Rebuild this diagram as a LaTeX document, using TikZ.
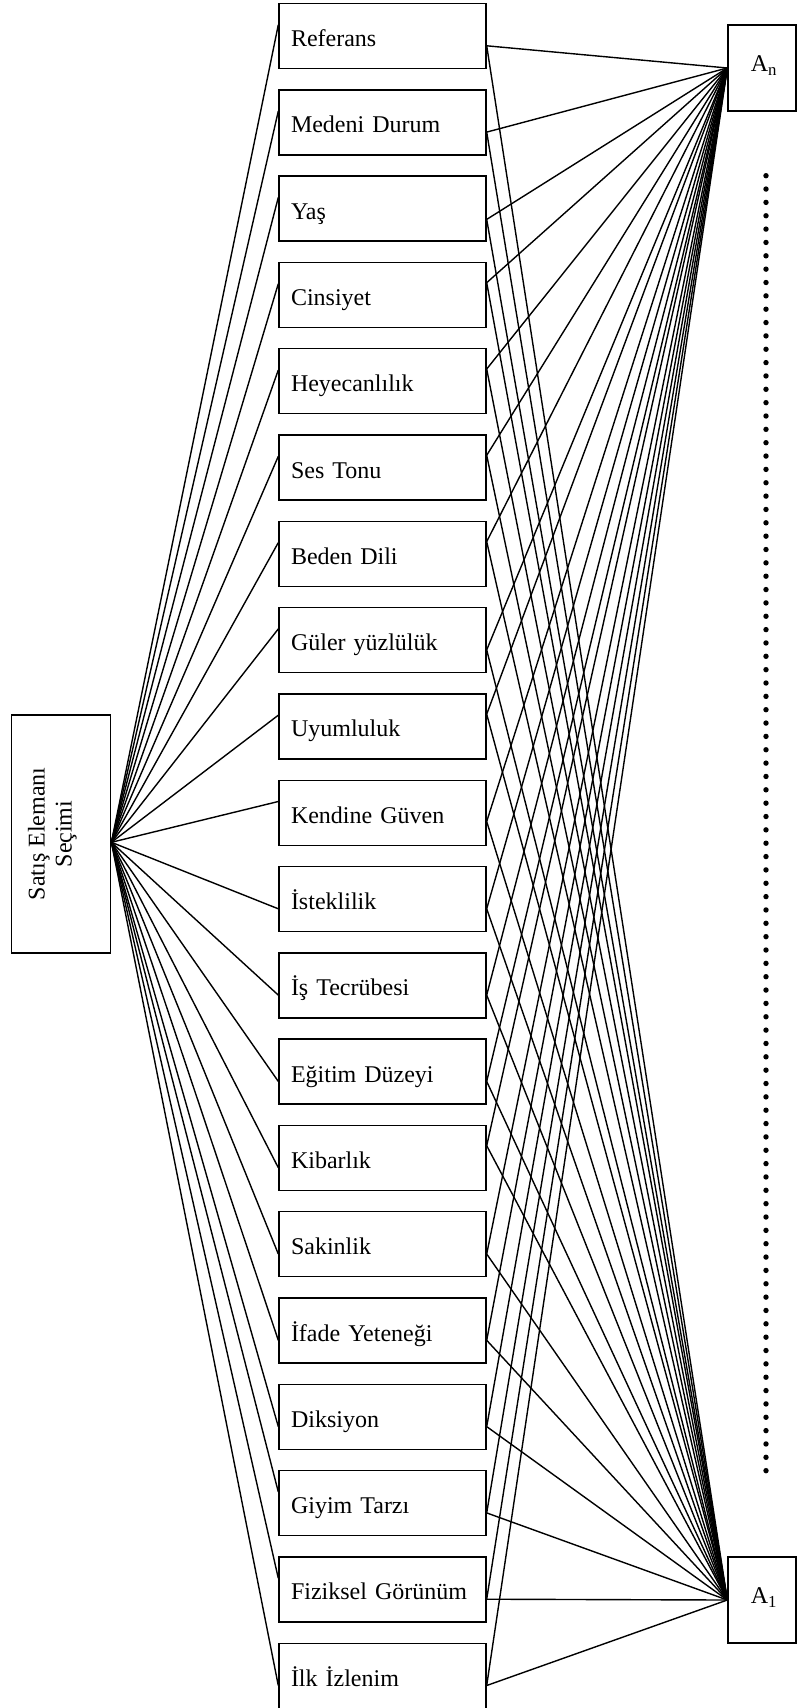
\documentclass[tikz,border=0pt]{standalone}
\usepackage{fontspec}
\setmainfont{Liberation Serif}
\usetikzlibrary{calc}
\begin{document}
\begin{tikzpicture}[x=1pt,y=-1pt,
  every node/.style={font=\fontsize{24}{27}\selectfont},
  itembox/.style={draw, line width=1.4pt, minimum width=207pt, minimum height=65pt,
    inner xsep=12pt, inner ysep=0pt, text width=183pt, align=left,
    text height=24pt, text depth=3pt},
  abox/.style={draw, line width=1.4pt, minimum width=68pt, minimum height=86pt,
    inner sep=0pt, text height=16pt, text depth=9pt},
  satbox/.style={draw, line width=1.4pt, minimum width=99pt, minimum height=238pt, inner sep=0pt},
  link/.style={line width=1.4pt},
  sattext/.style={rotate=90, anchor=base, inner sep=0pt}
]
\useasboundingbox (0,0) rectangle (797,1708);

% left root box
\node[satbox] (sat) at (61.2,834) {};
\node[sattext] (satA) at (44.5,834) {Satış Elemanı};
\node[sattext] (satB) at (71.5,834) {Seçimi};
\coordinate (sp) at ($(sat.north east)+(0,128)$);

% right boxes
\node[abox] (An) at (762,68) {\hspace*{4pt}A\textsubscript{n}};
\node[abox] (A1) at (762,1600) {\hspace*{4pt}A\textsubscript{1}};

% dotted column
\foreach \k in {0,...,97}
  \fill (766,175.7+13.35*\k) circle[radius=2.7];

% items
\foreach \i/\txt/\lo/\ro in {
  0/Referans/22/43,
  1/Medeni Durum/22/43,
  2/Yaş/22/44,
  3/Cinsiyet/22/21,
  4/Heyecanlılık/22/21,
  5/Ses Tonu/22/21,
  6/Beden Dili/22/21,
  7/Güler yüzlülük/22/43,
  8/Uyumluluk/22/21,
  9/Kendine Güven/22/42,
  10/İsteklilik/43/43,
  11/İş Tecrübesi/43/43,
  12/Eğitim Düzeyi/43/43,
  13/Kibarlık/43/21,
  14/Sakinlik/43/43,
  15/İfade Yeteneği/43/43,
  16/Diksiyon/43/43,
  17/Giyim Tarzı/22/43,
  18/Fiziksel Görünüm/22/43,
  19/İlk İzlenim/43/43}
{
  \pgfmathsetmacro\cy{3.5+86.3*\i+32.5}
  \node[itembox] (n\i) at (382.5,\cy) {\txt};
  \draw[link] (sp) -- ($(n\i.north west)+(0,\lo)$);
  \draw[link] ($(n\i.north east)+(0,\ro)$) -- (An.west);
  \draw[link] ($(n\i.north east)+(0,\ro)$) -- (A1.west);
}
\end{tikzpicture}
\end{document}
